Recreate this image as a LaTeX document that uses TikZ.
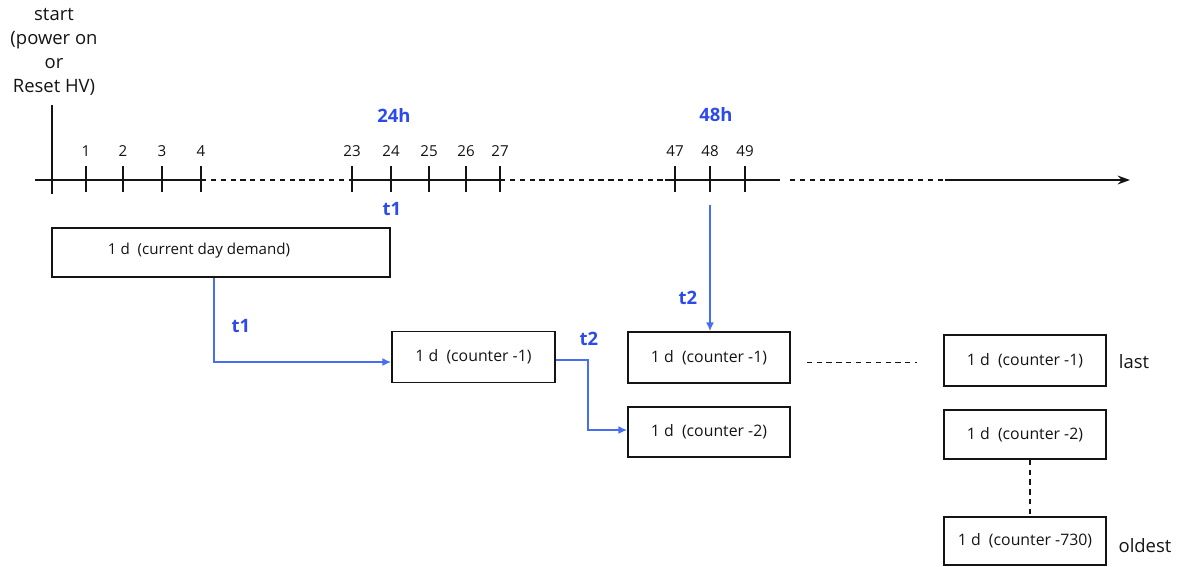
\documentclass[tikz,border=0pt]{standalone}
\usepackage{fontspec}
\setmainfont{Open Sans}
\usetikzlibrary{arrows.meta,calc}
\definecolor{lblue}{RGB}{70,110,240}
\definecolor{tblue}{RGB}{45,75,235}
\definecolor{ink}{RGB}{20,20,20}
\begin{document}
\begin{tikzpicture}[x=0.02cm,y=-0.02cm,
  box/.style={draw=ink,line width=0.9pt,inner sep=0pt,font=\fontsize{9}{10}\selectfont,text=ink},
  axisline/.style={draw=ink,line width=1.1pt},
  axisdash/.style={draw=ink,line width=1.1pt,dash pattern=on 3pt off 2.6pt},
  tick/.style={draw=ink,line width=1.6pt},
  num/.style={inner sep=0pt,font=\fontsize{8.6}{10}\selectfont,text=ink},
  blab/.style={inner sep=0pt,font=\bfseries\fontsize{10.5}{12}\selectfont,text=tblue},
  side/.style={inner sep=0pt,font=\fontsize{10.5}{13.6}\selectfont,text=ink},
  flow/.style={draw=lblue,line width=0.9pt,-{Latex[length=5pt,width=4.5pt]}},
  dotline/.style={draw=ink,line width=1pt,dash pattern=on 3pt off 2.6pt}]
\useasboundingbox (0,0) rectangle (1178,566);

% start label
\node[side,align=center] (start) at (54,52) {start\\(power on\\or\\Reset HV)};
\draw[draw=ink,line width=1.6pt] (52,105) -- (52,194);

% axis
\coordinate (a0) at (35,180);
\coordinate (a1) at (201,180);
\coordinate (a2) at (350,180);
\coordinate (a3) at (500,180);
\coordinate (a4) at (665,180);
\coordinate (a5) at (780,180);
\coordinate (a6) at (790,180);
\coordinate (a7) at (945,180);
\coordinate (a8) at (1130,180);
\draw[axisline] (a0) -- (a1);
\draw[axisdash] (a1) -- (a2);
\draw[axisline] (a2) -- (a3);
\draw[axisdash] (a3) -- (a4);
\draw[axisline] (a4) -- (a5);
\draw[axisdash] (a6) -- (a7);
\draw[axisline,-{Stealth[length=7pt,width=5pt]}] (a7) -- (a8);

% ticks and numbers
\foreach \x/\n in {86/1,123/2,162/3,201/4,352/23,391/24,429/25,466/26,500/27,675/47,710/48,745/49}{
  \draw[tick] (\x,166) -- (\x,192);
  \node[num] (n\n) at (\x,151) {\n};
}
\node[blab] (h24) at (394,115) {24h};
\node[blab] (h48) at (716,115) {48h};
\node[blab] (t1a) at (392,209) {t1};
\coordinate (c48) at (710,205);

% boxes
\node[box,minimum width=338*0.02cm,minimum height=49*0.02cm] (b1) at (221,252.5) {};
\node[inner sep=0pt,font=\fontsize{8.6}{10}\selectfont,text=ink] (b1t) at (199,251) {1 d\ \ (current day demand)};
\node[box,minimum width=163*0.02cm,minimum height=51*0.02cm] (b2) at (473.5,357) {1 d\ \ (counter -1)};
\node[box,minimum width=162*0.02cm,minimum height=51*0.02cm] (b3) at (709,357.5) {1 d\ \ (counter -1)};
\node[box,minimum width=162*0.02cm,minimum height=50*0.02cm] (b4) at (709,432) {1 d\ \ (counter -2)};
\node[box,minimum width=162*0.02cm,minimum height=51*0.02cm] (b5) at (1025,360.5) {1 d\ \ (counter -1)};
\node[box,minimum width=162*0.02cm,minimum height=49*0.02cm] (b6) at (1025,434.5) {1 d\ \ (counter -2)};
\node[box,minimum width=162*0.02cm,minimum height=48*0.02cm] (b7) at (1025,541) {1 d\ \ (counter -730)};

\node[side] (last) at (1134,362) {last};
\node[side] (oldest) at (1145,546) {oldest};

% flows
\draw[flow] (b1.south -| 214,0) -- (214,362) -- (b2.west |- 0,362);
\node[blab] (t1b) at (241,326) {t1};
\draw[flow] (b2.east |- 0,360) -- (588,360) -- (588,430) -- (b4.west |- 0,430);
\node[blab] (t2a) at (589,339) {t2};
\draw[flow] (c48) -- (b3.north -| c48);
\node[blab] (t2b) at (688,298) {t2};

% dotted links
\draw[dotline] ($(b3.east)+(16,5)$) -- ($(b5.west)+(-26,2)$);
\draw[dotline] ($(b6.south)+(5,0)$) -- ($(b7.north)+(5,0)$);
\end{tikzpicture}
\end{document}
